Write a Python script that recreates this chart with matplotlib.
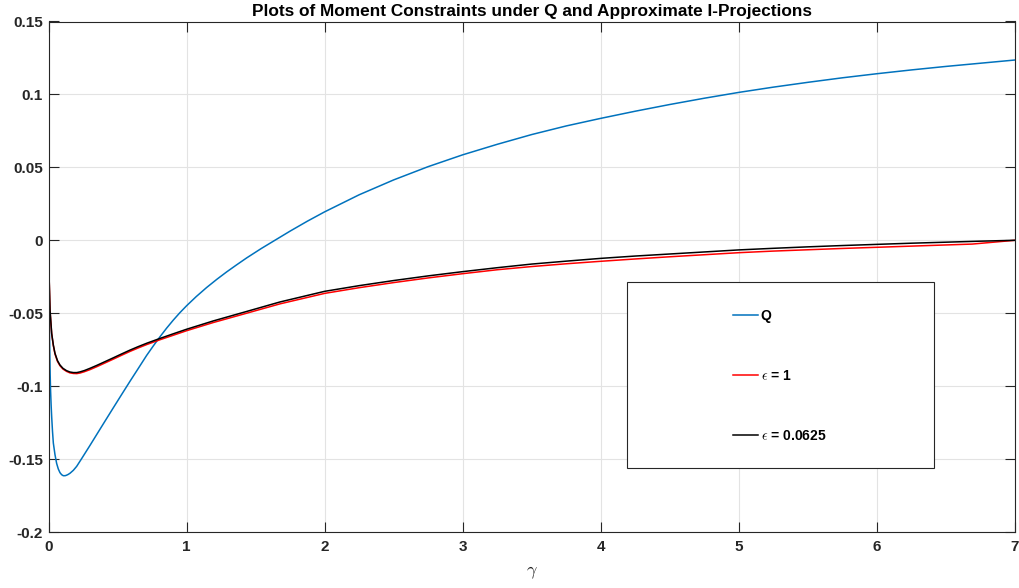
import matplotlib
matplotlib.use("Agg")
import matplotlib.pyplot as plt
from matplotlib.patches import Rectangle

plt.rcParams['font.family'] = ['Liberation Sans', 'DejaVu Sans']
plt.rcParams['mathtext.fontset'] = 'cm'

# ---- data ----
gamma_q = [0, 0.002, 0.004, 0.008, 0.012, 0.015, 0.019, 0.023, 0.029, 0.035, 0.047, 0.059,
           0.071, 0.083, 0.095, 0.107, 0.12, 0.13, 0.143, 0.156, 0.18, 0.204, 0.24, 0.30,
           0.349, 0.40, 0.469, 0.53, 0.59, 0.65, 0.711, 0.76, 0.807, 0.855, 0.904, 0.95,
           1.0, 1.07, 1.145, 1.22, 1.29, 1.36, 1.435, 1.54, 1.652, 1.75, 1.875, 2.0,
           2.25, 2.5, 2.75, 3.0, 3.25, 3.5, 3.75, 4.0, 4.25, 4.5, 4.75, 5.0,
           5.25, 5.5, 5.75, 6.0, 6.25, 6.5, 6.75, 7.0]
q_vals = [0, -0.02, -0.04, -0.07, -0.092, -0.103, -0.113, -0.121, -0.131, -0.139, -0.147, -0.153,
          -0.1568, -0.1593, -0.1607, -0.1614, -0.1614, -0.1611, -0.1605, -0.1597, -0.1577, -0.1550, -0.1497, -0.1407,
          -0.1332, -0.1254, -0.1149, -0.1057, -0.0967, -0.0879, -0.0789, -0.0723, -0.0662, -0.0603, -0.0547, -0.0498,
          -0.0449, -0.0386, -0.0324, -0.0267, -0.0217, -0.0170, -0.0121, -0.0057, 0.0007, 0.0063, 0.0131, 0.0195,
          0.0312, 0.0414, 0.0505, 0.0586, 0.0658, 0.0725, 0.0784, 0.0836, 0.0885, 0.0931, 0.0974, 0.1014,
          0.1050, 0.1083, 0.1114, 0.1142, 0.1168, 0.1192, 0.1214, 0.1236]

gamma_e1 = [0, 0.002, 0.005, 0.011, 0.023, 0.035, 0.047, 0.065, 0.083, 0.105, 0.131, 0.155,
            0.18, 0.205, 0.229, 0.26, 0.30, 0.349, 0.40, 0.469, 0.53, 0.59, 0.65, 0.711,
            0.807, 0.904, 1.0, 1.193, 1.435, 1.676, 2.0, 2.25, 2.5, 2.75, 3.0, 3.25,
            3.5, 3.75, 4.0, 4.25, 4.5, 4.75, 5.0, 5.25, 5.5, 5.75, 6.0, 6.25,
            6.5, 6.69, 7.0]
e1_vals = [0, -0.0142, -0.0274, -0.0481, -0.0642, -0.0722, -0.0780, -0.0830, -0.0860, -0.0883, -0.0899, -0.0909,
           -0.0913, -0.0914, -0.0910, -0.0901, -0.0887, -0.0867, -0.0845, -0.0815, -0.0788, -0.0762, -0.0738, -0.0715,
           -0.0682, -0.0651, -0.0620, -0.0564, -0.0500, -0.0436, -0.0364, -0.0325, -0.0290, -0.0258, -0.0229, -0.0202,
           -0.0180, -0.0161, -0.0144, -0.0128, -0.0113, -0.0099, -0.0085, -0.0074, -0.0065, -0.0056, -0.0048, -0.0040,
           -0.0032, -0.0026, 0.0]

gamma_e2 = [0, 0.002, 0.005, 0.011, 0.023, 0.035, 0.047, 0.065, 0.083, 0.105, 0.131, 0.155,
            0.18, 0.205, 0.229, 0.26, 0.30, 0.349, 0.40, 0.469, 0.53, 0.59, 0.65, 0.711,
            0.807, 0.904, 1.0, 1.193, 1.435, 1.676, 2.0, 2.25, 2.5, 2.75, 3.0, 3.25,
            3.5, 3.75, 4.0, 4.25, 4.5, 4.75, 5.0, 5.25, 5.5, 5.75, 6.0, 6.25,
            6.5, 6.75, 7.0]
e2_vals = [0, -0.0140, -0.0272, -0.0478, -0.0638, -0.0718, -0.0775, -0.0825, -0.0855, -0.0878, -0.0894, -0.0903,
           -0.0907, -0.0907, -0.0902, -0.0893, -0.0878, -0.0858, -0.0836, -0.0806, -0.0779, -0.0753, -0.0729, -0.0706,
           -0.0673, -0.0641, -0.0610, -0.0553, -0.0488, -0.0423, -0.0350, -0.0311, -0.0276, -0.0244, -0.0215, -0.0188,
           -0.0163, -0.0143, -0.0124, -0.0108, -0.0094, -0.0080, -0.0066, -0.0055, -0.0045, -0.0036, -0.0028, -0.0020,
           -0.0013, -0.0006, 0.0]

x_ticks = [0, 1, 2, 3, 4, 5, 6, 7]
y_ticks = [-0.2, -0.15, -0.1, -0.05, 0, 0.05, 0.1, 0.15]
y_tick_labels = ['-0.2', '-0.15', '-0.1', '-0.05', '0', '0.05', '0.1', '0.15']
labels = ['Q', r'$\epsilon$ = 1', r'$\epsilon$ = 0.0625']
title = 'Plots of Moment Constraints under Q and Approximate I-Projections'

# ---- figure ----
W, H = 1019, 588
fig = plt.figure(figsize=(W / 100, H / 100), dpi=100)
L, R, T, B = 48.5, 1015, 21.5, 532
ax = fig.add_axes([L / W, 1 - B / H, (R - L) / W, (B - T) / H])

axc = '#262626'
l1, = ax.plot(gamma_q, q_vals, color='#0072BD', lw=1.1)
l2, = ax.plot(gamma_e1, e1_vals, color='#FF0000', lw=1.1)
l3, = ax.plot(gamma_e2, e2_vals, color='#000000', lw=1.1)

ax.set_xlim(0, 7)
ax.set_ylim(-0.2, 0.15)
ax.set_xticks(x_ticks)
ax.set_xticklabels([str(v) for v in x_ticks])
ax.set_yticks(y_ticks)
ax.set_yticklabels(y_tick_labels)
ax.grid(True, color='#e3e3e3', lw=0.8)
ax.set_axisbelow(True)
for s in ax.spines.values():
    s.set_color(axc)
    s.set_linewidth(0.8)
ax.tick_params(direction='in', length=7, width=0.8, color=axc, top=True, right=True,
               labelsize=11, labelcolor=axc)
ax.tick_params(axis='x', pad=6)
ax.tick_params(axis='y', pad=4)
for lab in ax.get_xticklabels() + ax.get_yticklabels():
    lab.set_fontweight('bold')

ax.set_title(title, fontsize=12.4, fontweight='bold', color='#000000', pad=4)
ax.set_xlabel(r'$\gamma$', fontsize=13, color=axc, labelpad=7)

# legend box
rx0 = (627 - L) / (R - L)
ry0 = (B - 467.5) / (B - T)
rw = (934 - 627) / (R - L)
rh = (467.5 - 281.5) / (B - T)
ax.add_patch(Rectangle((rx0, ry0), rw, rh, transform=ax.transAxes, facecolor='white',
                       edgecolor=axc, lw=0.8, zorder=5))
leg = ax.legend([l1, l2, l3], labels, loc='center left',
                bbox_to_anchor=((733 - L) / (R - L), (B - 376) / (B - T)),
                frameon=False, borderpad=0, borderaxespad=0, handlelength=1.8,
                handletextpad=0.2, labelspacing=3.3, prop={'weight': 'bold', 'size': 10})
leg.set_zorder(6)

fig.savefig('out.png', dpi=100)
